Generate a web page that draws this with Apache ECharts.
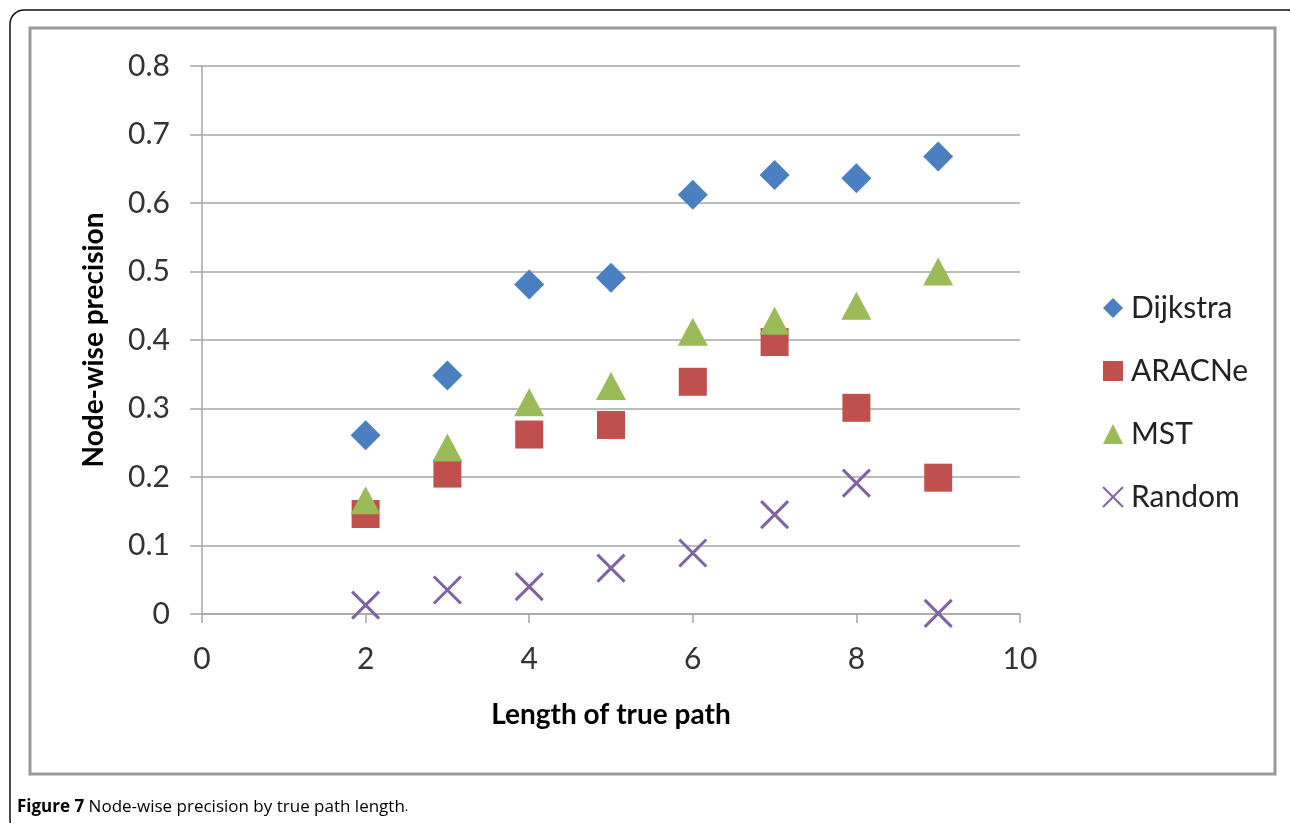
<!DOCTYPE html>
<html>
<head>
<meta charset="utf-8">
<script src="https://cdn.jsdelivr.net/npm/echarts@6/dist/echarts.min.js"></script>
<style>
  html, body { margin: 0; padding: 0; background: #fff; }
  #chart { width: 1290px; height: 823px; }
</style>
</head>
<body>
<div id="chart"></div>
<script>
// Path lengths on the x axis
const pathLengths = [2, 3, 4, 5, 6, 7, 8, 9];

// Node-wise precision per method
const dijkstra = [0.261, 0.348, 0.481, 0.491, 0.612, 0.641, 0.636, 0.668];
const aracne   = [0.146, 0.205, 0.262, 0.276, 0.339, 0.397, 0.301, 0.199];
const mst      = [0.166, 0.243, 0.309, 0.333, 0.412, 0.428, 0.450, 0.500];
const randomP  = [0.013, 0.035, 0.040, 0.067, 0.089, 0.145, 0.191, 0.001];

const seriesNames = ['Dijkstra', 'ARACNe', 'MST', 'Random'];
const xTicks = [0, 2, 4, 6, 8, 10];

const FONT = 'Lato, "Open Sans", sans-serif';
const CAPTION_FONT = '"Open Sans", sans-serif';

function pairs(vals) {
  return pathLengths.map((x, i) => [x, vals[i]]);
}

const crossPath = 'path://M0,0L10,10M10,0L0,10';

const chart = echarts.init(document.getElementById('chart'), null, { renderer: 'canvas' });

chart.setOption({
  backgroundColor: '#ffffff',
  animation: false,
  grid: { left: 202, right: 270, top: 66, bottom: 209, containLabel: false },
  xAxis: {
    type: 'value',
    min: 0, max: 10, interval: 2,
    name: 'Length of true path',
    nameLocation: 'middle',
    nameGap: 87,
    nameTextStyle: { fontFamily: FONT, fontSize: 28, fontWeight: 'bold', color: '#000' },
    axisLine: { show: true, lineStyle: { color: '#a6a6a6', width: 1.5 } },
    axisTick: { show: true, length: 9, inside: false, lineStyle: { color: '#a6a6a6', width: 1.5 } },
    axisLabel: {
      fontFamily: FONT, fontSize: 30, color: '#333', margin: 30,
      formatter: v => (xTicks.includes(v) ? String(v) : '')
    },
    splitLine: { show: false }
  },
  yAxis: {
    type: 'value',
    min: 0, max: 0.8, interval: 0.1,
    name: 'Node-wise precision',
    nameLocation: 'middle',
    nameGap: 94,
    nameTextStyle: { fontFamily: FONT, fontSize: 28, fontWeight: 'bold', color: '#000' },
    axisLine: { show: true, lineStyle: { color: '#a6a6a6', width: 1.5 } },
    axisTick: { show: true, length: 12, lineStyle: { color: '#a6a6a6', width: 1.5 } },
    axisLabel: {
      fontFamily: FONT, fontSize: 30, color: '#333', margin: 32,
      formatter: v => (Math.abs(v) < 1e-9 ? '0' : v.toFixed(1))
    },
    splitLine: { show: true, lineStyle: { color: '#a6a6a6', width: 1.5 } }
  },
  legend: {
    orient: 'vertical',
    left: 1097,
    top: 288,
    itemWidth: 20,
    itemHeight: 20,
    itemGap: 33,
    data: seriesNames,
    textStyle: { fontFamily: FONT, fontSize: 30, color: '#222', lineHeight: 30, padding: [0, 0, 0, 3] }
  },
  title: {
    text: '{b|Figure 7} Node-wise precision by true path length{s|.}',
    left: 12,
    top: 794,
    textStyle: {
      fontFamily: CAPTION_FONT, fontSize: 17, fontWeight: 'normal', color: '#000',
      rich: {
        b: { fontFamily: CAPTION_FONT, fontSize: 17, fontWeight: 'bold', color: '#000' },
        s: { fontFamily: CAPTION_FONT, fontSize: 13, fontWeight: 'normal', color: '#000' }
      }
    }
  },
  graphic: [
    {
      type: 'rect', z: -10, silent: true,
      shape: { x: 10, y: 10, width: 1292, height: 824, r: 14 },
      style: { fill: 'none', stroke: '#111', lineWidth: 1.5 }
    },
    {
      type: 'rect', z: -9, silent: true,
      shape: { x: 30, y: 28, width: 1245, height: 746 },
      style: { fill: '#fff', stroke: '#9a9a9a', lineWidth: 3 }
    }
  ],
  series: [
    {
      name: 'Dijkstra', type: 'scatter', symbol: 'diamond', symbolSize: [30, 30],
      itemStyle: { color: '#4a7fc1', opacity: 1 },
      data: pairs(dijkstra)
    },
    {
      name: 'ARACNe', type: 'scatter', symbol: 'rect', symbolSize: [28, 28],
      itemStyle: { color: '#c0504d', opacity: 1 },
      data: pairs(aracne)
    },
    {
      name: 'MST', type: 'scatter', symbol: 'triangle', symbolSize: [30, 28],
      itemStyle: { color: '#9bbb59', opacity: 1 },
      data: pairs(mst)
    },
    {
      name: 'Random', type: 'scatter', symbol: crossPath, symbolSize: [27, 27],
      itemStyle: { color: 'rgba(0,0,0,0)', borderColor: '#8064a2', borderWidth: 3, opacity: 1 },
      data: pairs(randomP)
    }
  ]
});
</script>
</body>
</html>
